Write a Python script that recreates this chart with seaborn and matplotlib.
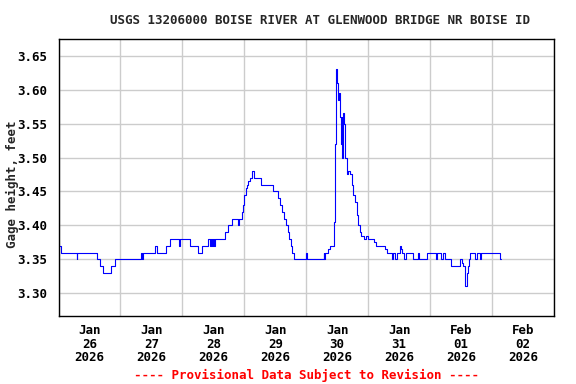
import numpy as np
import pandas as pd
import matplotlib
matplotlib.use('Agg')
import matplotlib.pyplot as plt
import matplotlib.dates as mdates
import seaborn as sns

title = "USGS 13206000 BOISE RIVER AT GLENWOOD BRIDGE NR BOISE ID"
footer = "---- Provisional Data Subject to Revision ----"
start = pd.Timestamp("2026-01-26 00:00")

# hours after Jan 26 00:00 where the reading changes, and the new reading (feet)
hours = [0.0, 0.8, 7.0, 7.3, 15.1, 16.1, 17.4, 20.4, 21.9, 32.0, 32.3, 32.9,
         37.2, 38.1, 41.6, 43.2, 46.8, 47.0, 51.0, 54.2, 55.5, 58.1, 58.6, 59.0,
         59.3, 59.8, 60.2, 60.8, 64.6, 65.6, 67.1, 69.7, 70.0, 71.2, 71.6, 72.0,
         72.5, 73.0, 73.6, 74.2, 74.8, 75.8, 78.3, 83.0, 85.0, 85.8, 86.6, 87.4,
         88.2, 89.0, 89.5, 90.0, 90.6, 91.4, 95.8, 96.1, 102.7, 102.9, 103.2, 104.4,
         105.2, 106.8, 107.2, 107.5, 107.8, 108.0, 108.4, 108.8, 109.0, 109.4, 109.7, 109.9,
         110.3, 110.7, 111.1, 111.6, 112.3, 112.9, 113.6, 114.2, 114.9, 115.5, 116.1, 116.8,
         117.4, 118.5, 119.1, 119.8, 122.3, 122.9, 126.7, 127.1, 129.3, 129.7, 130.3, 131.0,
         132.3, 132.7, 133.2, 133.9, 134.5, 137.4, 139.4, 139.7, 142.8, 143.2, 146.1, 146.5,
         148.4, 149.0, 149.7, 152.0, 155.5, 156.4, 156.8, 157.4, 157.7, 158.1, 158.5, 159.0,
         159.4, 161.3, 162.0, 163.2, 163.9, 171.0, 171.6]
gage_ft = [3.37, 3.36, 3.35, 3.36, 3.35, 3.34, 3.33, 3.34, 3.35, 3.36, 3.35, 3.36,
           3.37, 3.36, 3.37, 3.38, 3.37, 3.38, 3.37, 3.36, 3.37, 3.38, 3.37, 3.38,
           3.37, 3.38, 3.37, 3.38, 3.39, 3.40, 3.41, 3.40, 3.41, 3.42, 3.43, 3.445,
           3.455, 3.46, 3.465, 3.47, 3.48, 3.47, 3.46, 3.45, 3.44, 3.43, 3.42, 3.41,
           3.40, 3.39, 3.38, 3.37, 3.36, 3.35, 3.36, 3.35, 3.36, 3.35, 3.36, 3.365,
           3.37, 3.405, 3.52, 3.63, 3.62, 3.61, 3.585, 3.595, 3.56, 3.52, 3.56, 3.50,
           3.565, 3.55, 3.50, 3.475, 3.48, 3.475, 3.46, 3.445, 3.435, 3.415, 3.40, 3.39,
           3.385, 3.38, 3.385, 3.38, 3.375, 3.37, 3.365, 3.36, 3.35, 3.36, 3.35, 3.36,
           3.37, 3.365, 3.36, 3.35, 3.36, 3.35, 3.36, 3.35, 3.36, 3.36, 3.35, 3.36,
           3.35, 3.36, 3.35, 3.34, 3.35, 3.345, 3.34, 3.32, 3.31, 3.33, 3.34, 3.35,
           3.36, 3.35, 3.36, 3.35, 3.36, 3.35, 3.35]

day_labels = ["Jan\n26\n2026", "Jan\n27\n2026", "Jan\n28\n2026", "Jan\n29\n2026",
              "Jan\n30\n2026", "Jan\n31\n2026", "Feb\n01\n2026", "Feb\n02\n2026"]
y_ticks = [3.30, 3.35, 3.40, 3.45, 3.50, 3.55, 3.60, 3.65]

df = pd.DataFrame({"time": start + pd.to_timedelta(hours, unit="h"), "gage": gage_ft})

sns.set_style("white")
plt.rcParams['font.family'] = ['DejaVu Sans Mono']
plt.rcParams['font.weight'] = 'bold'

fig = plt.figure(figsize=(5.76, 3.84), dpi=100)
ax = fig.add_axes([58.5 / 576, 1 - 316 / 384, (554 - 58.5) / 576, (316 - 39) / 384])

sns.lineplot(data=df, x="time", y="gage", ax=ax, color="#0000ff", linewidth=0.8,
             drawstyle="steps-post", estimator=None, sort=False)

midnights = [start + pd.Timedelta(days=d) for d in range(9)]
noons = [start + pd.Timedelta(hours=12 + 24 * d) for d in range(8)]
ax.set_xlim(midnights[0], midnights[-1])
ax.set_xticks(midnights)
ax.set_xticklabels([""] * len(midnights))
ax.set_xticks(noons, minor=True)
ax.set_xticklabels(day_labels, minor=True)
for t in ax.get_xticklabels(minor=True):
    t.set_linespacing(1.05)

ax.set_ylim(3.2665, 3.6746)
ax.set_yticks(y_ticks)
ax.set_yticklabels(["%.2f" % v for v in y_ticks])

ax.grid(True, which="major", color="#cccccc", linewidth=1)
ax.tick_params(which="both", length=0, labelsize=9, colors="black")
ax.tick_params(axis="x", which="minor", pad=6)
ax.tick_params(axis="y", pad=8)
for s in ax.spines.values():
    s.set_color("black")
    s.set_linewidth(1)
ax.set_xlabel("")
ax.set_ylabel("")

fig.text(320 / 576, 1 - 20 / 384, title, ha="center", va="center", fontsize=9, fontweight="bold")
fig.text(12 / 576, 1 - 184 / 384, "Gage height, feet", rotation=90, ha="center", va="center",
         fontsize=9, fontweight="bold")
fig.text(306 / 576, 1 - 375 / 384, footer, ha="center", va="center", fontsize=9,
         fontweight="bold", color="#ff0000")

fig.savefig("out.png", dpi=100)
